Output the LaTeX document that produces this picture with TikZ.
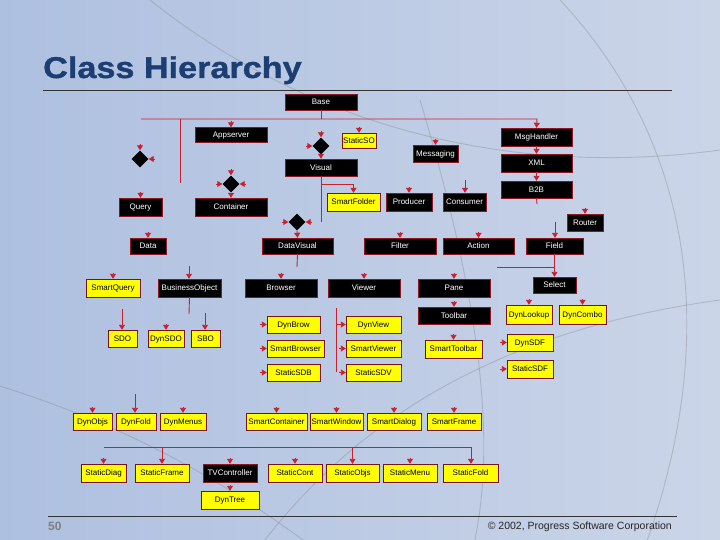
\documentclass[tikz,border=0pt]{standalone}
\usepackage{fontspec}
\setmainfont{Liberation Sans}
\newfontfamily\titlefont[FakeStretch=1.14,FakeBold=1.2]{Liberation Sans}
\usetikzlibrary{arrows.meta,positioning,shapes.geometric}
\definecolor{hiblue}{HTML}{1C3E72}
\definecolor{hired}{HTML}{C8202F}
\definecolor{hiyellow}{HTML}{FFFF00}
\definecolor{bgleft}{HTML}{AEC0E0}
\definecolor{bgmid}{HTML}{DDE3EF}
\definecolor{bgright}{HTML}{CBD5E8}

\begin{document}
\begin{tikzpicture}[x=1pt,y=-1pt,
  cls/.style={rectangle,inner sep=1pt,minimum height=17pt,
              text height=5.8pt,text depth=0.4pt,
              font=\fontsize{8}{8}\selectfont},
  blk/.style={cls,fill=black,draw=hired!70!black,text=white},
  ylw/.style={cls,fill=hiyellow,draw=hired!60!black,text=black},
  dia/.style={diamond,fill=black,inner sep=0pt,minimum size=17pt},
  link/.style={hired,line width=0.9pt},
  arr/.style={link,-{Triangle[length=5pt,width=6pt]}},
  bgline/.style={gray,opacity=0.35,line width=0.9pt}
]

  % ---- Background ---------------------------------------------
  \useasboundingbox (0,0) rectangle (720,540);
  \shade[left color=bgleft,middle color=bgmid,right color=bgright]
    (0,0) rectangle (720,540);
  \draw[bgline] (-20,380) .. controls (150,430) and (250,500) .. (330,560);
  \draw[bgline] (560,0) .. controls (700,150) and (720,350) .. (640,560);
  \draw[bgline] (420,100) .. controls (480,300) and (500,450) .. (470,560);
  \draw[bgline] (150,0) .. controls (300,120) and (500,180) .. (720,150);
  \draw[bgline] (250,560) .. controls (350,420) and (500,330) .. (720,300);

  % ---- Title and footer ---------------------------------------
  \node[font=\titlefont\bfseries\fontsize{30}{32}\selectfont,text=hiblue,
        anchor=base west,inner sep=0pt] (title) at (43,78) {Class Hierarchy};
  \draw[black!80,line width=0.8pt] (43,90) -- (672,90);
  \draw[black!80,line width=0.8pt] (48,516) -- (677,516);
  \node[font=\fontsize{12}{12}\selectfont\bfseries,text=gray,
        anchor=base west,inner sep=0pt] (pagenum) at (48,530) {50};
  \node[font=\fontsize{10.5}{12}\selectfont,text=black!85,
        anchor=base east,inner sep=0pt] (copyright) at (672,529)
    {\textcopyright{} 2002, Progress Software Corporation};

  % ---- Upper classes ------------------------------------------
  \node[blk,minimum width=72,minimum height=16] (base) at (321,102) {Base};
  \node[blk,minimum width=72,minimum height=15] (appserver) at (231,135) {Appserver};
  \node[ylw,minimum width=34,minimum height=15] (staticso) at (359,140.5) {StaticSO};
  \node[blk,minimum width=72] (visual) at (321,167.5) {Visual};
  \node[blk,minimum width=43,minimum height=18] (query) at (140.5,207) {Query};
  \node[blk,minimum width=72,minimum height=18] (container) at (231,207) {Container};
  \node[blk,minimum width=45] (messaging) at (435.5,153.5) {Messaging};
  \node[blk,minimum width=71,minimum height=18] (msghandler) at (536.5,137) {MsgHandler};
  \node[blk,minimum width=71,minimum height=18] (xml) at (536.5,163) {XML};
  \node[blk,minimum width=71] (b2b) at (536.5,189.5) {B2B};
  \node[ylw,minimum width=53,minimum height=18] (smartfolder) at (353.5,202) {SmartFolder};
  \node[blk,minimum width=46,minimum height=18] (producer) at (409,202) {Producer};
  \node[blk,minimum width=43,minimum height=18] (consumer) at (464.5,202) {Consumer};
  \node[blk,minimum width=36] (router) at (585,222.5) {Router};

  % junction diamonds
  \node[dia] (qjoin) at (140,159) {};
  \node[dia] (vjoin) at (321,146) {};
  \node[dia] (cjoin) at (231,184) {};
  \node[dia] (dvjoin) at (297,222) {};

  % ---- Second level -------------------------------------------
  \node[blk,minimum width=36,minimum height=16] (data) at (148,246) {Data};
  \node[blk,minimum width=71,minimum height=16] (datavisual) at (297.5,246) {DataVisual};
  \node[blk,minimum width=72,minimum height=16] (filter) at (400,246) {Filter};
  \node[blk,minimum width=71,minimum height=16] (action) at (478.5,246) {Action};
  \node[blk,minimum width=57,minimum height=16] (field) at (554.5,246) {Field};
  \node[blk,minimum width=43,minimum height=16] (select) at (554.5,285) {Select};

  \node[ylw,minimum width=54,minimum height=18] (smartquery) at (113,288) {SmartQuery};
  \node[blk,minimum width=63,minimum height=18] (busobj) at (189.5,288) {BusinessObject};
  \node[blk,minimum width=72,minimum height=18] (browser) at (281,288) {Browser};
  \node[blk,minimum width=72,minimum height=18] (viewer) at (364,288) {Viewer};
  \node[blk,minimum width=72,minimum height=18] (pane) at (454,288) {Pane};
  \node[blk,minimum width=72] (toolbar) at (454,315.5) {Toolbar};
  \node[ylw,minimum width=57,minimum height=18] (smarttoolbar) at (453.5,349) {SmartToolbar};
  \node[ylw,minimum width=46,minimum height=19] (dynlookup) at (529,314.5) {DynLookup};
  \node[ylw,minimum width=47,minimum height=19] (dyncombo) at (582.5,314.5) {DynCombo};
  \node[ylw,minimum width=46] (dynsdf) at (530,342.5) {DynSDF};
  \node[ylw,minimum width=46,minimum height=18] (staticsdf) at (530,369) {StaticSDF};

  % ---- Data and visual objects --------------------------------
  \node[ylw,minimum width=29] (sdo) at (122.5,338.5) {SDO};
  \node[ylw,minimum width=36] (dynsdo) at (166,338.5) {DynSDO};
  \node[ylw,minimum width=29] (sbo) at (205.5,338.5) {SBO};
  \node[ylw,minimum width=53] (dynbrow) at (293.5,324.5) {DynBrow};
  \node[ylw,minimum width=57] (smartbrowser) at (295.5,348.5) {SmartBrowser};
  \node[ylw,minimum width=53] (staticsdb) at (293.5,372.5) {StaticSDB};
  \node[ylw,minimum width=55] (dynview) at (373.5,324.5) {DynView};
  \node[ylw,minimum width=55] (smartviewer) at (373.5,348.5) {SmartViewer};
  \node[ylw,minimum width=55] (staticsdv) at (373.5,372.5) {StaticSDV};

  % ---- Containers ---------------------------------------------
  \node[ylw,minimum width=39] (dynobjs) at (92.5,421.5) {DynObjs};
  \node[ylw,minimum width=40] (dynfold) at (136,421.5) {DynFold};
  \node[ylw,minimum width=46] (dynmenus) at (183,421.5) {DynMenus};
  \node[ylw,minimum width=61] (smartcontainer) at (276.5,421.5) {SmartContainer};
  \node[ylw,minimum width=53] (smartwindow) at (336.5,421.5) {SmartWindow};
  \node[ylw,minimum width=54] (smartdialog) at (394,421.5) {SmartDialog};
  \node[ylw,minimum width=54] (smartframe) at (454,421.5) {SmartFrame};

  \node[ylw,minimum width=45,minimum height=18] (staticdiag) at (103.5,473) {StaticDiag};
  \node[ylw,minimum width=54,minimum height=18] (staticframe) at (162,473) {StaticFrame};
  \node[blk,minimum width=54,minimum height=18] (tvctrl) at (230,473) {TVController};
  \node[ylw,minimum width=54,minimum height=18] (staticcont) at (295,473) {StaticCont};
  \node[ylw,minimum width=53,minimum height=18] (staticobjs) at (352.5,473) {StaticObjs};
  \node[ylw,minimum width=54,minimum height=18] (staticmenu) at (410,473) {StaticMenu};
  \node[ylw,minimum width=55,minimum height=18] (staticfold) at (470.5,473) {StaticFold};
  \node[ylw,minimum width=58,minimum height=18] (dyntree) at (230,500) {DynTree};

  % ---- Connectors ---------------------------------------------
  \coordinate (busl) at (141,119);
  \coordinate (busr) at (537,119);
  \coordinate (stemend) at (180,183);
  \draw[link] (base.south) -- (base.south |- busl);
  \draw[arr] (busl) -- (busr) -- (msghandler.north);
  \draw[link] (stemend |- busl) -- (stemend);

  \coordinate (vbranch) at (321,184);
  \coordinate (vend) at (321,222);
  \draw[link] (visual.south) -- (vend);
  \draw[arr] (vbranch) -| (smartfolder.north);

  \draw[arr] ([yshift=6pt]qjoin.north) -- (qjoin.north);
  \draw[arr] ([xshift=6pt]qjoin.east) -- (qjoin.east);
  \draw[arr] ([yshift=6pt]vjoin.north) -- (vjoin.north);
  \draw[arr] ([xshift=-6pt]vjoin.west) -- (vjoin.west);
  \draw[arr] (vjoin.south) -- (visual.north);
  \draw[arr] ([yshift=6pt]cjoin.north) -- (cjoin.north);
  \draw[arr] ([xshift=-6pt]cjoin.west) -- (cjoin.west);
  \draw[arr] ([xshift=6pt]cjoin.east) -- (cjoin.east);
  \draw[arr] (cjoin.south) -- (container.north);
  \draw[arr] ([xshift=-6pt]dvjoin.west) -- (dvjoin.west);
  \draw[arr] ([xshift=6pt]dvjoin.east) -- (dvjoin.east);
  \draw[arr] (dvjoin.south) -- (datavisual.north);

  \coordinate (constop) at (465,180);
  \draw[arr] (constop) -- (constop |- consumer.north);
  \draw[arr] (msghandler.south) -- (xml.north);
  \draw[arr] (xml.south) -- (b2b.north);
  \coordinate (b2bend) at (537,204);
  \draw[link] (b2b.south) -- (b2bend);

  \coordinate (fieldtop) at (555,222);
  \coordinate (selbranch) at (497,267);
  \draw[arr] (fieldtop) -- (fieldtop |- field.north);
  \draw[arr] (field.south) -- (select.north);
  \draw[link] (selbranch) -- (selbranch -| field.south);

  \coordinate (dvend) at (297,267);
  \draw[link] (datavisual.south) -- (dvend);
  \coordinate (botop) at (189,266);
  \coordinate (boend) at (189,314);
  \draw[arr] (botop) -- (botop |- busobj.north);
  \draw[link] (busobj.south) -- (boend);
  \coordinate (sdotop) at (122,309);
  \draw[arr] (sdotop) -- (sdotop |- sdo.north);
  \coordinate (sbotop) at (205,313);
  \draw[arr] (sbotop) -- (sbotop |- sbo.north);

  \coordinate (vwtop) at (336,308);
  \coordinate (vwend) at (336,372);
  \draw[link] (vwtop) -- (vwend);
  \draw[arr] (vwtop |- dynview.west) -- (dynview.west);

  \coordinate (dftop) at (135,394);
  \draw[arr] (dftop) -- (dftop |- dynfold.north);

  \coordinate (sbusl) at (104,447);
  \coordinate (sbusr) at (471,447);
  \draw[arr] (sbusl) -- (sbusr) -- (sbusr |- staticfold.north);
  \draw[arr] (staticframe.north |- sbusl) -- (staticframe.north);
  \draw[arr] (staticobjs.north |- sbusl) -- (staticobjs.north);

  % short arrow heads on top of boxes
  \foreach \n in {appserver,staticso,query,messaging,producer,router,data,
                  filter,action,smartquery,browser,viewer,pane,toolbar,
                  smarttoolbar,dynlookup,dyncombo,dynsdo,dynobjs,dynmenus,
                  smartcontainer,smartwindow,smartdialog,smartframe,
                  staticdiag,tvctrl,staticcont,staticmenu,dyntree}
    \draw[arr] ([yshift=6pt]\n.north) -- (\n.north);
  % and on their left side
  \foreach \n in {dynbrow,smartbrowser,staticsdb,smartviewer,staticsdv,
                  dynsdf,staticsdf}
    \draw[arr] ([xshift=-7pt]\n.west) -- (\n.west);

\end{tikzpicture}
\end{document}
